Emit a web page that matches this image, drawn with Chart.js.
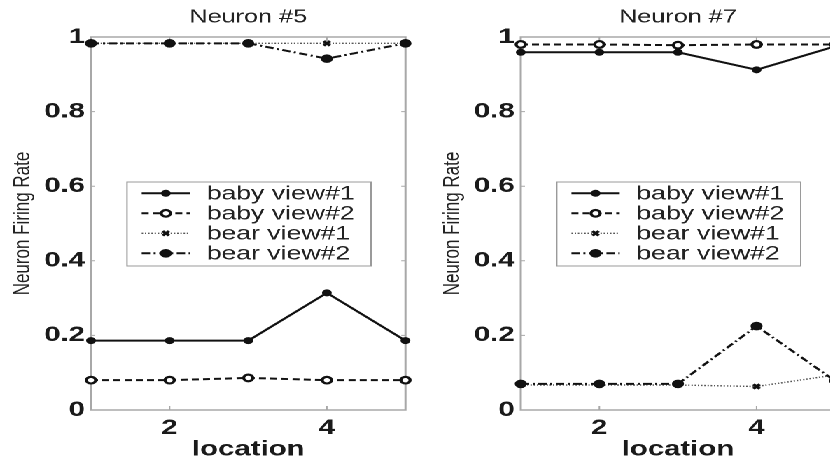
<!DOCTYPE html>
<html>
<head>
<meta charset="utf-8">
<script src="https://cdn.jsdelivr.net/npm/chart.js@4.4.1/dist/chart.umd.min.js"></script>
<style>
  html, body { margin: 0; padding: 0; background: #fff; overflow: hidden; width: 830px; height: 458px; }
  /* the figure is laid out at a narrower width and stretched sideways */
  #stage { position: absolute; left: 0; top: 0; width: 614px; height: 458px; transform: scaleX(1.4); transform-origin: 0 0; }
  .panel { position: absolute; top: 0; width: 307px; height: 458px; }
</style>
</head>
<body>
<div id="stage">
  <div class="panel" style="left:0"><canvas id="neuron5"></canvas></div>
  <div class="panel" style="left:307px"><canvas id="neuron7"></canvas></div>
</div>
<script>
// ---- data ----
const locations = [1, 2, 3, 4, 5];
const seriesLabels = ['baby view#1', 'baby view#2', 'bear view#1', 'bear view#2'];

const n5BabyView1 = [0.186, 0.186, 0.186, 0.314, 0.186];
const n5BabyView2 = [0.080, 0.080, 0.086, 0.080, 0.080];
const n5BearView1 = [0.983, 0.983, 0.983, 0.983, 0.983];
const n5BearView2 = [0.983, 0.983, 0.983, 0.942, 0.983];

const n7BabyView1 = [0.959, 0.959, 0.959, 0.912, 0.975];
const n7BabyView2 = [0.980, 0.980, 0.978, 0.980, 0.980];
const n7BearView1 = [0.067, 0.067, 0.067, 0.063, 0.094];
const n7BearView2 = [0.070, 0.070, 0.070, 0.225, 0.078];

const xTicks = [2, 4];
const yTicks = [0, 0.2, 0.4, 0.6, 0.8, 1];

// ---- line styles, one per series ----
const seriesStyles = [
  { color: '#111', width: 2, dash: [], marker: 'circle', radius: 3, fill: '#111', markerWidth: 1 },
  { color: '#111', width: 2, dash: [5, 3], marker: 'circle', radius: 3.3, fill: '#fff', markerWidth: 2.2 },
  { color: '#555', width: 1.4, dash: [1, 1.3], marker: 'crossRot', radius: 3.2, fill: '#111', markerWidth: 2.4 },
  { color: '#111', width: 2, dash: [6, 2.5, 1.5, 2.5], marker: 'circle', radius: 3.8, fill: '#111', markerWidth: 1 }
];

const FONT = 'Arial, "Liberation Sans", Helvetica, sans-serif';

function buildDatasets(valueLists) {
  return valueLists.map((vals, i) => {
    const st = seriesStyles[i];
    return {
      label: seriesLabels[i],
      data: locations.map((x, k) => ({ x: x, y: vals[k] })),
      borderColor: st.color,
      borderWidth: st.width,
      borderDash: st.dash,
      pointStyle: st.marker,
      pointRadius: st.radius,
      pointBackgroundColor: st.fill,
      pointBorderColor: '#111',
      pointBorderWidth: st.markerWidth,
      tension: 0,
      clip: false,
      order: -i
    };
  });
}

function drawMarker(ctx, style, r, x, y) {
  ctx.beginPath();
  if (style === 'crossRot') {
    const d = r * Math.SQRT1_2;
    ctx.moveTo(x - d, y - d); ctx.lineTo(x + d, y + d);
    ctx.moveTo(x - d, y + d); ctx.lineTo(x + d, y - d);
    ctx.stroke();
  } else {
    ctx.arc(x, y, r, 0, Math.PI * 2);
    ctx.fill();
    ctx.stroke();
  }
}

// box around the plot with inward tick marks on all four sides
const frameTicks = {
  id: 'frameTicks',
  beforeDatasetsDraw(chart) {
    const { ctx, chartArea: a, scales: { x, y } } = chart;
    ctx.save();
    ctx.strokeStyle = '#a8a8a8';
    ctx.lineWidth = 1.5;
    ctx.strokeRect(a.left, a.top, a.right - a.left, a.bottom - a.top);
    ctx.lineWidth = 1;
    ctx.beginPath();
    x.ticks.forEach(t => {
      const px = x.getPixelForValue(t.value);
      ctx.moveTo(px, a.bottom); ctx.lineTo(px, a.bottom - 4);
      ctx.moveTo(px, a.top); ctx.lineTo(px, a.top + 4);
    });
    y.ticks.forEach(t => {
      const py = y.getPixelForValue(t.value);
      ctx.moveTo(a.left, py); ctx.lineTo(a.left + 3, py);
      ctx.moveTo(a.right, py); ctx.lineTo(a.right - 3, py);
    });
    ctx.stroke();
    ctx.restore();
  }
};

// boxed legend with line samples drawn in each series' own style
const lineLegend = {
  id: 'lineLegend',
  afterDraw(chart, args, o) {
    const { ctx, chartArea: a } = chart;
    const bx = a.left + o.left, by = o.top;
    ctx.save();
    ctx.fillStyle = '#fff';
    ctx.fillRect(bx, by, o.width, o.height);
    ctx.strokeStyle = '#9a9a9a';
    ctx.lineWidth = 1;
    ctx.strokeRect(bx, by, o.width, o.height);
    chart.data.datasets.forEach((ds, i) => {
      const cy = by + o.firstRow + i * o.rowGap;
      const x0 = bx + o.lineStart, x1 = bx + o.lineEnd;
      ctx.strokeStyle = ds.borderColor;
      ctx.lineWidth = ds.borderWidth;
      ctx.setLineDash(ds.borderDash);
      ctx.beginPath(); ctx.moveTo(x0, cy); ctx.lineTo(x1, cy); ctx.stroke();
      ctx.setLineDash([]);
      ctx.fillStyle = ds.pointBackgroundColor;
      ctx.strokeStyle = ds.pointBorderColor;
      ctx.lineWidth = ds.pointBorderWidth;
      drawMarker(ctx, ds.pointStyle, ds.pointRadius, (x0 + x1) / 2, cy);
      ctx.fillStyle = '#222';
      ctx.font = '19px ' + FONT;
      ctx.textAlign = 'left';
      ctx.textBaseline = 'middle';
      ctx.fillText(ds.label, bx + o.textX, cy + 1);
    });
    ctx.restore();
  }
};

function makeChart(id, title, valueLists) {
  return new Chart(document.getElementById(id), {
    type: 'line',
    data: { datasets: buildDatasets(valueLists) },
    options: {
      animation: false,
      responsive: true,
      maintainAspectRatio: false,
      devicePixelRatio: 2,
      events: [],
      layout: { padding: { left: 0, right: 17.4, top: 0, bottom: 0 } },
      plugins: {
        legend: { display: false },
        tooltip: { enabled: false },
        title: {
          display: true, text: title, fullSize: false, color: '#222',
          font: { family: FONT, size: 18, weight: 'normal', lineHeight: 1.2 },
          padding: { top: 6.5, bottom: 8.9 }
        },
        lineLegend: { left: 25.7, top: 182, width: 174.3, height: 84, firstRow: 11.3, rowGap: 20, lineStart: 10.5, lineEnd: 45, textX: 56.9 }
      },
      scales: {
        x: {
          type: 'linear', min: 1, max: 5,
          afterBuildTicks: s => { s.ticks = xTicks.map(v => ({ value: v })); },
          afterFit: s => { s.height = 48; },
          grid: { display: false, drawTicks: false },
          border: { display: false },
          ticks: { color: '#1a1a1a', padding: 5.4, maxRotation: 0, autoSkip: false,
                   font: { family: FONT, size: 21, weight: 'bold', lineHeight: 1.2 } },
          title: { display: true, text: 'location', color: '#1a1a1a',
                   font: { family: FONT, size: 21, weight: 'bold', lineHeight: 1 },
                   padding: { top: 0, bottom: -2 } }
        },
        y: {
          type: 'linear', min: 0, max: 1,
          afterBuildTicks: s => { s.ticks = yTicks.map(v => ({ value: v })); },
          afterFit: s => { s.width = 65; },
          grid: { display: false, drawTicks: false },
          border: { display: false },
          ticks: { color: '#1a1a1a', padding: 4.3, autoSkip: false,
                   callback: v => String(v),
                   font: { family: FONT, size: 21, weight: 'bold', lineHeight: 1.2 } },
          title: { display: true, text: 'Neuron Firing Rate', color: '#222',
                   font: { family: FONT, size: 17, weight: 'normal', lineHeight: 1.2 },
                   padding: { top: 6.2, bottom: 0 } }
        }
      }
    },
    plugins: [frameTicks, lineLegend]
  });
}

makeChart('neuron5', 'Neuron #5', [n5BabyView1, n5BabyView2, n5BearView1, n5BearView2]);
makeChart('neuron7', 'Neuron #7', [n7BabyView1, n7BabyView2, n7BearView1, n7BearView2]);
</script>
</body>
</html>
